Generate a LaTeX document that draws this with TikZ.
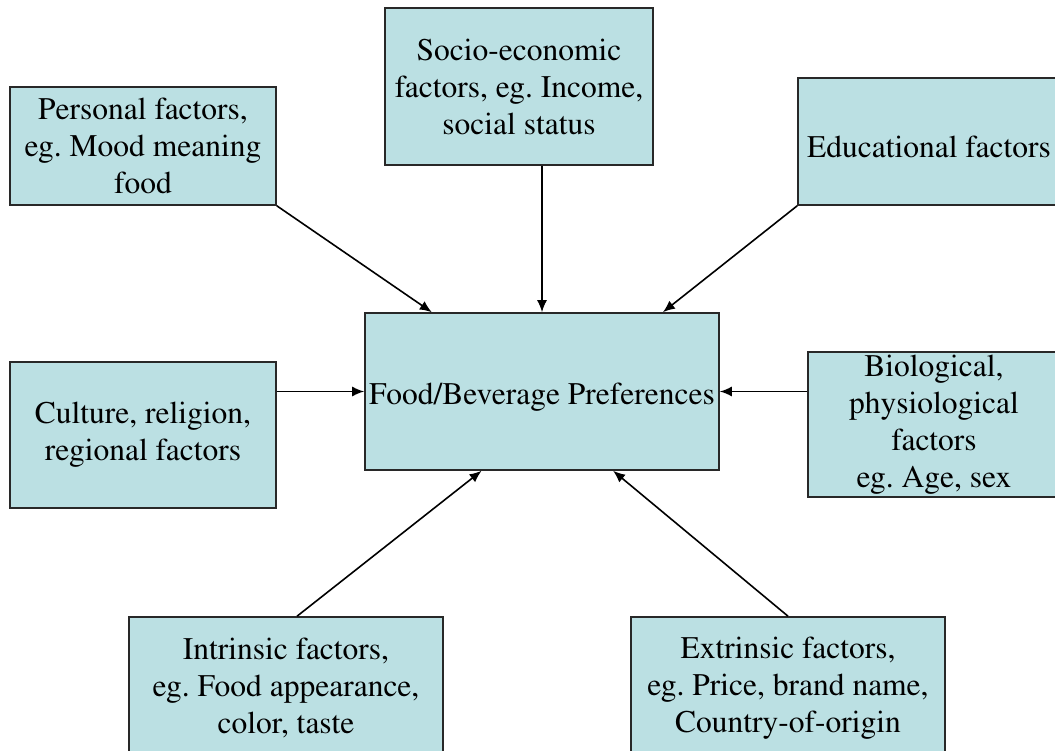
\documentclass[tikz,border=0pt]{standalone}
\usepackage[T1]{fontenc}
\renewcommand{\rmdefault}{ptm}
\usetikzlibrary{arrows.meta}
\usetikzlibrary{calc}
\definecolor{boxblue}{RGB}{187,224,227}
\definecolor{boxline}{RGB}{40,40,40}
\frenchspacing

\begin{document}
\begin{tikzpicture}[x=1pt, y=-1pt, >={Latex[length=12pt,width=10pt]},
    every node/.style={font=\fontsize{31.5}{37}\selectfont},
    factor/.style={draw=boxline, line width=1.6pt, fill=boxblue, align=center,
      inner sep=0pt, minimum width=#1, execute at begin node={\rule{0pt}{33pt}}},
    link/.style={->, line width=1.6pt}]
  \useasboundingbox (0,0) rectangle (1055,751);
  \clip (0,0) rectangle (1055,751);

  % centre box
  \node[factor=354, minimum height=157] (prefs) at (542,391.5) {Food/Beverage Preferences};

  % factor boxes
  \node[factor=266, minimum height=118] (personal) at (143,146)
    {Personal factors,\\ eg. Mood meaning\\ food};
  \node[factor=268, minimum height=157] (socio) at (519,86.5)
    {Socio-economic\\ factors, eg. Income,\\ social status};
  \node[factor=262, minimum height=127] (edu) at (929,141.5) {Educational factors};
  \node[factor=266, minimum height=146] (culture) at (143,435)
    {Culture, religion,\\ regional factors};
  \node[factor=252, minimum height=145] (bio) at (934,424.5)
    {Biological,\\ physiological\\ factors\\ eg. Age, sex};
  \node[factor=314, minimum height=142] (intrinsic) at (286,688)
    {Intrinsic factors,\\ eg. Food appearance,\\ color, taste};
  \node[factor=314, minimum height=142] (extrinsic) at (788,688)
    {Extrinsic factors,\\ eg. Price, brand name,\\ Country-of-origin};

  % arrows into the centre
  \draw[link] (personal.south east) -- ($(prefs.north west)!0.19!(prefs.north east)$);
  \draw[link] (socio.south -| prefs.north) -- (prefs.north);
  \draw[link] (edu.south west) -- ($(prefs.north west)!0.84!(prefs.north east)$);
  \draw[link] (culture.north east |- prefs.west) -- (prefs.west);
  \draw[link] (bio.west |- prefs.east) -- (prefs.east);
  \draw[link] ($(intrinsic.north west)!0.535!(intrinsic.north east)$)
    -- ($(prefs.south west)!0.33!(prefs.south east)$);
  \draw[link] (extrinsic.north) -- ($(prefs.south west)!0.70!(prefs.south east)$);
\end{tikzpicture}
\end{document}
